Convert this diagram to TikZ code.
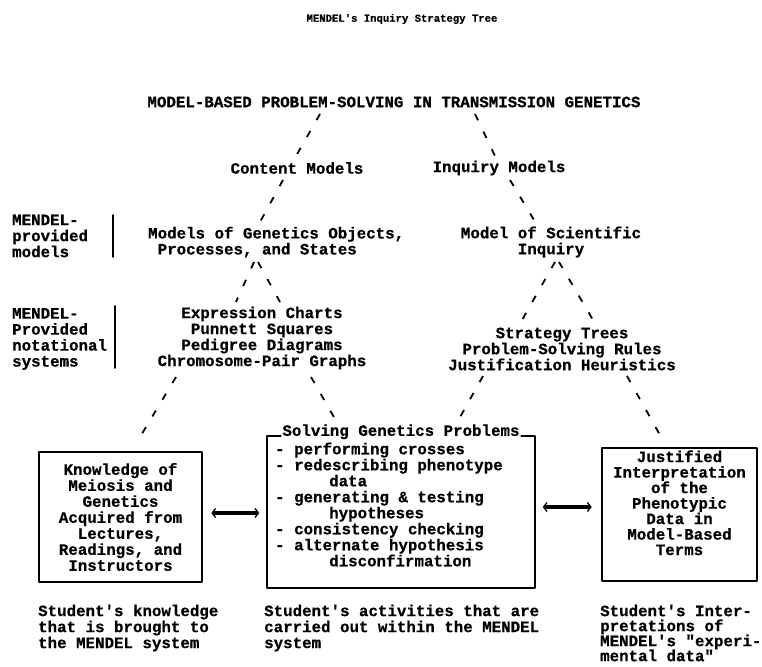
\documentclass[tikz,border=0pt]{standalone}
\usepackage{fontspec}
\setmonofont[BoldFeatures={FakeBold=0.6}]{Liberation Mono}
\usetikzlibrary{calc,arrows.meta}

\begin{document}
\begin{tikzpicture}[x=1pt,y=-1pt,line cap=round,line join=round,
  txt/.style={font=\ttfamily\bfseries\fontsize{15.8}{16}\selectfont,inner sep=0pt,align=center},
  txtl/.style={txt,align=left},
  boxline/.style={line width=1.6pt},
  slashes/.style={line width=1.8pt,line cap=butt,dash pattern=on 7pt off 12.5pt},
  bar/.style={line width=1.8pt},
  chevron/.tip={Straight Barb[line width=1.3pt,length=3.5pt,width=9pt,sep=2.5pt]},
  twoway/.style={line width=3.2pt,line cap=butt,{chevron}-{chevron}}]

\useasboundingbox (0,0) rectangle (762,666);

% tree text
\node[txt,font=\ttfamily\bfseries\fontsize{10.6}{12}\selectfont] (title) at (402,19) {MENDEL's Inquiry Strategy Tree};
\node[txt] (mbps) at (394,102) {MODEL-BASED PROBLEM-SOLVING IN TRANSMISSION GENETICS};
\node[txt] (content) at (297,168) {Content Models};
\node[txt] (inquiry) at (499,168) {Inquiry Models};
\node[txtl,anchor=west] (objects) at (148,242) {Models of Genetics Objects,\\\hspace*{9.5pt}Processes, and States};
\node[txt] (scimodel) at (551,242) {Model of Scientific\\Inquiry};
\node[txt] (notation) at (262,338) {Expression Charts\\Punnett Squares\\Pedigree Diagrams\\Chromosome-Pair Graphs};
\node[txt] (strategy) at (562,349) {Strategy Trees\\Problem-Solving Rules\\Justification Heuristics};

% side labels
\node[txtl,anchor=west] (provmod) at (12,236) {MENDEL-\\provided\\models};
\node[txtl,anchor=west] (provnot) at (12,339) {MENDEL-\\Provided\\notational\\systems};
\draw[bar] (113,215) -- (113,257);
\draw[bar] (115,306) -- (115,368);

% slash branches
\coordinate (c1a) at (320,114);  \coordinate (c1b) at (296,156);
\coordinate (c2a) at (475,114);  \coordinate (c2b) at (495,156);
\coordinate (c3a) at (283,180);  \coordinate (c3b) at (260,222);
\coordinate (c4a) at (510,180);  \coordinate (c4b) at (534,220);
\coordinate (c5a) at (254,262);  \coordinate (c5b) at (236,302);
\coordinate (c6a) at (258,262);  \coordinate (c6b) at (280,302);
\coordinate (c7a) at (555,262);  \coordinate (c7b) at (522,320);
\coordinate (c8a) at (559,262);  \coordinate (c8b) at (593,320);
\coordinate (c9a) at (176,377);  \coordinate (c9b) at (140,437);
\coordinate (c10a) at (311,377); \coordinate (c10b) at (335,419);
\coordinate (c11a) at (483,376); \coordinate (c11b) at (459,419);
\coordinate (c12a) at (627,376); \coordinate (c12b) at (660,435);

\foreach \c in {c1,c2,c3,c4,c5,c6,c7,c8,c9,c10,c11,c12}
  \draw[slashes] (\c a) -- (\c b);

% boxes
\node[draw,boxline,txt,minimum width=163pt,minimum height=130pt] (know) at (120.5,517)
  {Knowledge of\\Meiosis and\\Genetics\\Acquired from\\Lectures,\\Readings, and\\Instructors};

\node[minimum width=268pt,minimum height=152pt,inner sep=0pt] (solve) at (401,512) {};
\node[txt,inner xsep=1.5pt] (solvehead) at ($(solve.north)+(0,-4)$) {Solving Genetics Problems};
\draw[boxline] (solvehead.west |- solve.north) -- (solve.north west) -- (solve.south west)
  -- (solve.south east) -- (solve.north east) -- (solvehead.east |- solve.north);
\node[txtl,anchor=west] (solvelist) at (275,504.5)
  {- performing crosses\\- redescribing phenotype\\\hspace*{54pt}data\\- generating \& testing\\\hspace*{54pt}hypotheses\\- consistency checking\\- alternate hypothesis\\\hspace*{54pt}disconfirmation};

\node[draw,boxline,minimum width=155pt,minimum height=133pt,inner sep=0pt] (interp) at (679.5,514.5) {};
\node[txt,font=\ttfamily\bfseries\fontsize{15.8}{15.5}\selectfont,anchor=north] (interptxt) at ($(interp.north)+(0,3)$)
  {Justified\\Interpretation\\of the\\Phenotypic\\Data in\\Model-Based\\Terms};

% two-way links
\coordinate (arrL) at (0,513);
\coordinate (arrR) at (0,507);
\draw[twoway,shorten <=6pt,shorten >=5pt] (know.east |- arrL) -- (solve.west |- arrL);
\draw[twoway,shorten <=5pt,shorten >=7pt] (solve.east |- arrR) -- (interp.west |- arrR);

% captions
\node[txtl,anchor=west] (capknow) at (38,628) {Student's knowledge\\that is brought to\\the MENDEL system};
\node[txtl,anchor=west] (capsolve) at (264,628) {Student's activities that are\\carried out within the MENDEL\\system};
\node[txtl,anchor=west,font=\ttfamily\bfseries\fontsize{15.8}{15}\selectfont] (capinterp) at (600,633) {Student's Inter-\\pretations of\\MENDEL's "experi-\\mental data"};
\end{tikzpicture}
\end{document}
